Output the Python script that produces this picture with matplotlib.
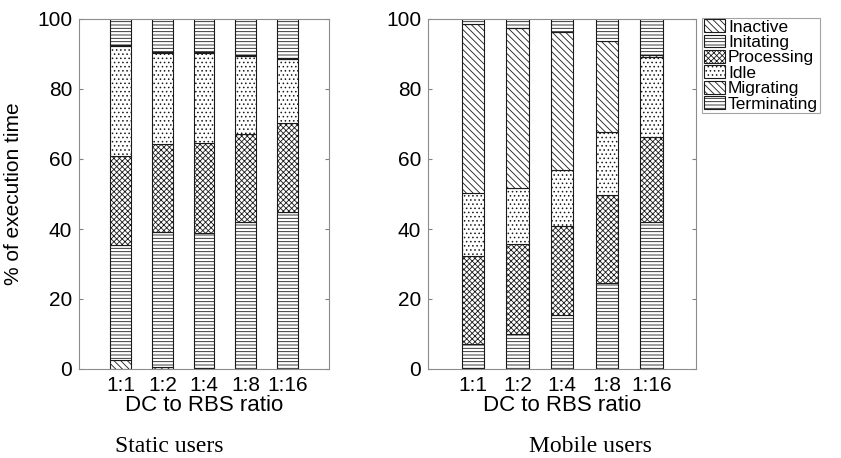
import numpy as np
import matplotlib
matplotlib.use('Agg')
import matplotlib.pyplot as plt

plt.rcParams['font.family'] = ['Liberation Sans', 'DejaVu Sans']
plt.rcParams['hatch.linewidth'] = 0.6

ratios = ['1:1', '1:2', '1:4', '1:8', '1:16']
states = ['Inactive', 'Initating', 'Processing', 'Idle', 'Migrating', 'Terminating']

# % of execution time per state, static users
static_inactive = [2.7, 0.7, 0.2, 0.1, 0.1]
static_initiating = [32.6, 38.5, 38.7, 41.9, 44.7]
static_processing = [25.7, 25.1, 25.6, 25.1, 25.6]
static_idle = [31.2, 26.1, 25.8, 22.4, 18.1]
static_migrating = [0.3, 0.3, 0.2, 0.1, 0.3]
static_terminating = [7.5, 9.3, 9.5, 10.4, 11.2]

# % of execution time per state, mobile users
mobile_inactive = [0.4, 0.1, 0.1, 0.1, 0.1]
mobile_initiating = [6.8, 9.9, 15.3, 24.6, 41.8]
mobile_processing = [25.1, 25.7, 25.5, 25.0, 24.5]
mobile_idle = [17.9, 16.1, 16.1, 17.9, 22.8]
mobile_migrating = [48.3, 45.7, 39.2, 26.2, 0.4]
mobile_terminating = [1.5, 2.5, 3.8, 6.2, 10.4]

hatches = ['\\\\\\\\\\', '-----', 'xxxxxx', '....', '\\\\\\\\\\', '-----']

fig = plt.figure(figsize=(8.41, 4.58), dpi=100)
ax1 = fig.add_axes([79/841, 1-369/458, 250/841, 350/458])
ax2 = fig.add_axes([428/841, 1-369/458, 268/841, 350/458])

def stacked(ax, series):
    x = np.arange(1, len(ratios) + 1)
    bottom = np.zeros(len(ratios))
    bars = []
    for vals, h, name in zip(series, hatches, states):
        b = ax.bar(x, vals, 0.5, bottom=bottom, color='white',
                   edgecolor='#1a1a1a', linewidth=0.8, hatch=h, label=name)
        bars.append(b)
        bottom += np.array(vals)
    ax.set_xlim(0, 6)
    ax.set_ylim(0, 100)
    ax.set_xticks(x)
    ax.set_xticklabels(ratios)
    ax.set_yticks(range(0, 101, 20))
    ax.tick_params(direction='in', length=3, labelsize=15, right=True,
                   bottom=False, color='#808080', pad=5)
    for s in ax.spines.values():
        s.set_color('#8c8c8c')
        s.set_linewidth(0.8)
    ax.set_xlabel('DC to RBS ratio', fontsize=16, labelpad=0)
    return bars

stacked(ax1, [static_inactive, static_initiating, static_processing,
              static_idle, static_migrating, static_terminating])
bars = stacked(ax2, [mobile_inactive, mobile_initiating, mobile_processing,
                     mobile_idle, mobile_migrating, mobile_terminating])
ax1.set_ylabel('% of execution time', fontsize=15, labelpad=10)

leg = fig.legend(bars, states, loc='upper left',
                 bbox_to_anchor=(702/841, 1-17.5/458), fontsize=12.5,
                 frameon=True, fancybox=False, borderpad=0.1,
                 labelspacing=0.0, handlelength=1.25, handleheight=0.75,
                 handletextpad=0.15, borderaxespad=0)
leg.get_frame().set_edgecolor('#8c8c8c')
leg.get_frame().set_linewidth(0.8)

fig.text(169/841, 1-446/458, 'Static users', ha='center', va='center',
         fontsize=17, family='Liberation Serif')
fig.text(590/841, 1-446/458, 'Mobile users', ha='center', va='center',
         fontsize=17, family='Liberation Serif')

fig.savefig('out.png', dpi=100)
